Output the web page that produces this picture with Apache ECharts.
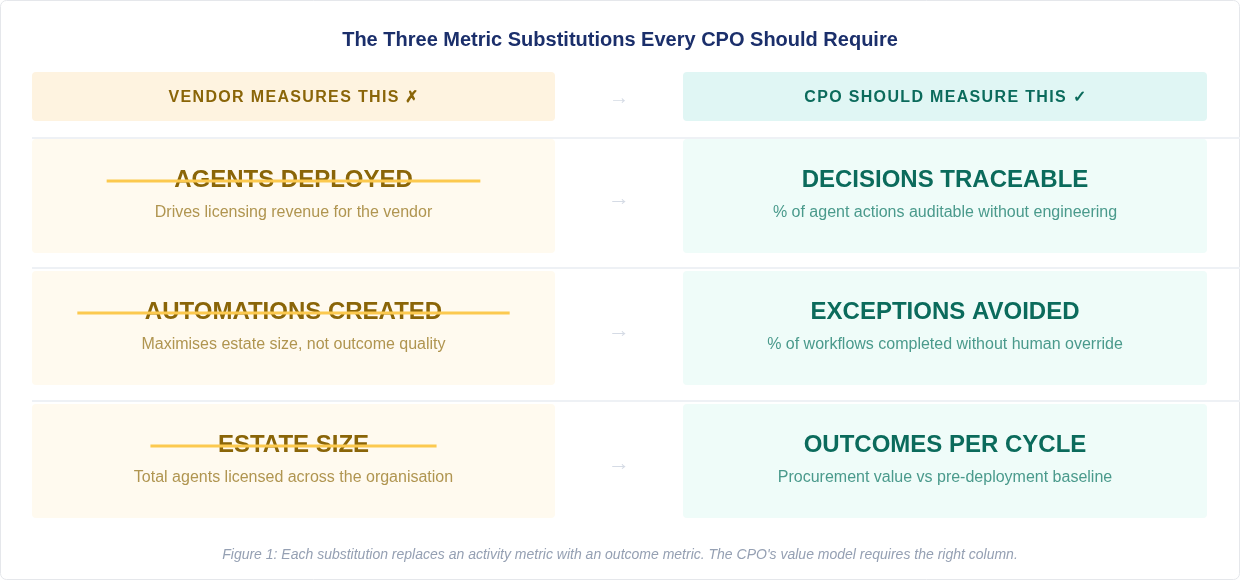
<!DOCTYPE html>
<html><head><meta charset="utf-8">
<script src="https://cdn.jsdelivr.net/npm/echarts@6/dist/echarts.min.js"></script>
<style>html,body{margin:0;padding:0;background:#fff}#c{width:1240px;height:580px}</style>
</head><body><div id="c"></div>
<script>
const title = 'The Three Metric Substitutions Every CPO Should Require';
const headers = ['VENDOR MEASURES THIS ✗', 'CPO SHOULD MEASURE THIS ✓'];
const vendorMetrics = ['AGENTS DEPLOYED', 'AUTOMATIONS CREATED', 'ESTATE SIZE'];
const vendorNotes = ['Drives licensing revenue for the vendor', 'Maximises estate size, not outcome quality', 'Total agents licensed across the organisation'];
const cpoMetrics = ['DECISIONS TRACEABLE', 'EXCEPTIONS AVOIDED', 'OUTCOMES PER CYCLE'];
const cpoNotes = ['% of agent actions auditable without engineering', '% of workflows completed without human override', 'Procurement value vs pre-deployment baseline'];
const caption = "Figure 1: Each substitution replaces an activity metric with an outcome metric. The CPO's value model requires the right column.";

const chart = echarts.init(document.getElementById('c'), null, {renderer:'canvas'});
const F = '"Liberation Sans", Arial, sans-serif';
const L = {lx:32, lw:523, rx:683, rw:524, ax:619};
const g = [];
g.push({type:'rect', shape:{x:0.5,y:0.5,width:1239,height:579,r:6}, style:{fill:'#fff',stroke:'#e5e7eb'}});
g.push({type:'text', x:620, y:40, style:{text:title, font:'bold 20px '+F, fill:'#1b2f6b', align:'center', verticalAlign:'middle'}});
// header
g.push({type:'rect', shape:{x:L.lx,y:72,width:L.lw,height:49,r:4}, style:{fill:'#fef3e0'}});
g.push({type:'rect', shape:{x:L.rx,y:72,width:L.rw,height:49,r:4}, style:{fill:'#e0f6f4'}});
g.push({type:'text', x:L.lx+L.lw/2, y:98, style:{text:headers[0].split('').join('\u200A'), font:'bold 16px '+F, fill:'#8a6508', align:'center', verticalAlign:'middle'}});
g.push({type:'text', x:L.rx+L.rw/2, y:98, style:{text:headers[1].split('').join('\u200A'), font:'bold 16px '+F, fill:'#0b6b5c', align:'center', verticalAlign:'middle'}});
g.push({type:'text', x:L.ax, y:98, style:{text:'→', font:'20px '+F, fill:'#d5dbe5', align:'center', verticalAlign:'middle'}});
const rowTop = [139, 271, 404], rowH = 114, sepY = [138, 268, 401];
const ctx = document.createElement('canvas').getContext('2d');
vendorMetrics.forEach((m,i)=>{
  const y = rowTop[i], cy = y+rowH/2;
  g.push({type:'line', shape:{x1:32,y1:sepY[i],x2:1240,y2:sepY[i]}, style:{stroke:'#eef1f5',lineWidth:2}});
  g.push({type:'rect', shape:{x:L.lx,y:y,width:L.lw,height:rowH,r:4}, style:{fill:'#fffaef'}});
  g.push({type:'rect', shape:{x:L.rx,y:y,width:L.rw,height:rowH,r:4}, style:{fill:'#effcf9'}});
  g.push({type:'text', x:L.lx+L.lw/2, y:cy-16, style:{text:m, font:'bold 24px '+F, fill:'#8a6508', align:'center', verticalAlign:'middle'}});
  ctx.font = 'bold 24px '+F;
  const w = ctx.measureText(m).width + 135;
  const sx = L.lx+L.lw/2;
  g.push({type:'line', shape:{x1:sx-w/2,y1:cy-15,x2:sx+w/2,y2:cy-15}, style:{stroke:'#fcc94f',lineWidth:3}, z:10});
  g.push({type:'text', x:L.lx+L.lw/2, y:cy+17, style:{text:vendorNotes[i], font:'16px '+F, fill:'#b09550', align:'center', verticalAlign:'middle'}});
  g.push({type:'text', x:L.rx+L.rw/2, y:cy-16, style:{text:cpoMetrics[i], font:'bold 24px '+F, fill:'#0b6b5c', align:'center', verticalAlign:'middle'}});
  g.push({type:'text', x:L.rx+L.rw/2, y:cy+17, style:{text:cpoNotes[i], font:'16px '+F, fill:'#4a9a8c', align:'center', verticalAlign:'middle'}});
  g.push({type:'text', x:L.ax, y:cy+3, style:{text:'→', font:'22px '+F, fill:'#d5dbe5', align:'center', verticalAlign:'middle'}});
});
g.push({type:'text', x:620, y:555, style:{text:caption, font:'italic 14px '+F, fill:'#95a0b3', align:'center', verticalAlign:'middle'}});
chart.setOption({animation:false, graphic:{elements:g}});
</script></body></html>
